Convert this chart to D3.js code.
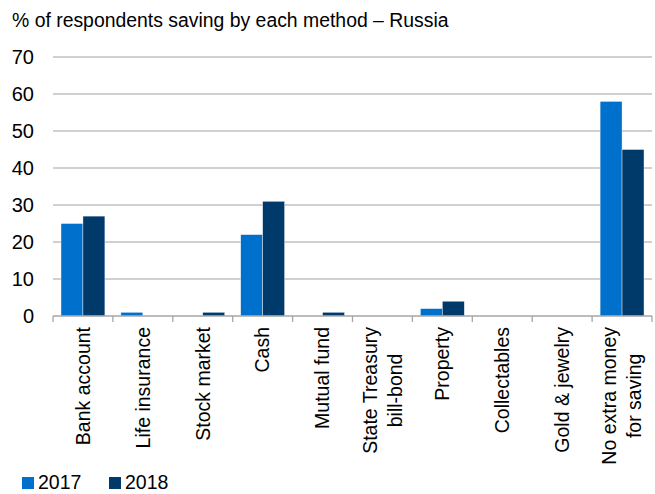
<!DOCTYPE html>
<html>
<head>
<meta charset="utf-8">
<script src="https://cdn.jsdelivr.net/npm/d3@7"></script>
<style>
  html, body { margin: 0; padding: 0; background: #fff; }
  svg { display: block; font-family: "Liberation Sans", Arial, sans-serif; }
</style>
</head>
<body>
<svg id="chart" width="655" height="494"></svg>
<script>
const categories = [
  ["Bank account"], ["Life insurance"], ["Stock market"], ["Cash"], ["Mutual fund"],
  ["State Treasury", "bill-bond"], ["Property"], ["Collectables"], ["Gold & jewelry"],
  ["No extra money", "for saving"]
];
const seriesNames = ["2017", "2018"];
const values2017 = [25, 1, 0, 22, 0, 0, 2, 0, 0, 58];
const values2018 = [27, 0, 1, 31, 1, 0, 4, 0, 0, 45];
const yTicks = [0, 10, 20, 30, 40, 50, 60, 70];
const colors = ["#0070cd", "#003a6b"];
const title = "% of respondents saving by each method \u2013 Russia";

(function () {
const svg = d3.select("#chart");
const mLeft = 53, mRight = 652, mTop = 57, mBottom = 316;
const keys = categories.map((c, i) => i);

const x = d3.scaleBand().domain(keys).range([mLeft, mRight]).padding(0);
const xi = d3.scaleBand().domain(seriesNames).range([0, x.bandwidth()]).paddingInner(0).paddingOuter(0.364);
const y = d3.scaleLinear().domain([0, 70]).range([mBottom, mTop]);

// title
svg.append("text").attr("x", 12).attr("y", 27).attr("font-size", 19.4).attr("fill", "#000").text(title);

// gridlines
svg.append("g").selectAll("line").data(yTicks.filter(d => d > 0)).join("line")
  .attr("x1", mLeft).attr("x2", mRight)
  .attr("y1", d => y(d)).attr("y2", d => y(d))
  .attr("stroke", "#c0c0c0").attr("stroke-width", 1.3);

// y labels
svg.append("g").selectAll("text").data(yTicks).join("text")
  .attr("x", 34).attr("y", d => y(d)).attr("dy", "0.35em")
  .attr("text-anchor", "end").attr("font-size", 20).attr("fill", "#000")
  .text(d => d);

// bars
const series = [values2017, values2018];
series.forEach((vals, si) => {
  svg.append("g").selectAll("rect").data(vals.map((v, i) => ({v, i})).filter(d => d.v > 0)).join("rect")
    .attr("x", d => x(d.i) + xi(seriesNames[si]))
    .attr("width", xi.bandwidth())
    .attr("y", d => y(d.v))
    .attr("height", d => y(0) - y(d.v))
    .attr("fill", colors[si])
    .attr("stroke", "#ffffff").attr("stroke-width", 0.4);
});

// x axis line and ticks
svg.append("line").attr("x1", mLeft).attr("x2", mRight).attr("y1", mBottom).attr("y2", mBottom)
  .attr("stroke", "#a6a6a6").attr("stroke-width", 1.3);
const boundaries = keys.map(k => x(k)).concat([mRight]);
svg.append("g").selectAll("line").data(boundaries).join("line")
  .attr("x1", d => d).attr("x2", d => d).attr("y1", mBottom).attr("y2", mBottom + 6)
  .attr("stroke", "#a6a6a6").attr("stroke-width", 1.3);

// category labels
const lineH = 25;
categories.forEach((lines, i) => {
  const cx = x(i) + x.bandwidth() / 2;
  const g = svg.append("g");
  const t = g.append("text").attr("font-size", 19.5).attr("fill", "#000").attr("text-anchor", "middle");
  lines.forEach((ln, j) => {
    t.append("tspan").attr("x", 0)
      .attr("y", (j - (lines.length - 1) / 2) * lineH)
      .attr("dy", "0.35em").text(ln);
  });
  let maxW = 0;
  t.selectAll("tspan").each(function() { maxW = Math.max(maxW, this.getComputedTextLength()); });
  g.attr("transform", `translate(${cx},${327 + maxW / 2}) rotate(-90)`);
});

// legend
const legend = svg.append("g");
const lx = [22, 109];
seriesNames.forEach((s, i) => {
  legend.append("rect").attr("x", lx[i]).attr("y", 477).attr("width", 12).attr("height", 12).attr("fill", colors[i]);
  legend.append("text").attr("x", lx[i] + 16).attr("y", 489).attr("font-size", 19.5).attr("fill", "#000").text(s);
});
})();
</script>
</body>
</html>
